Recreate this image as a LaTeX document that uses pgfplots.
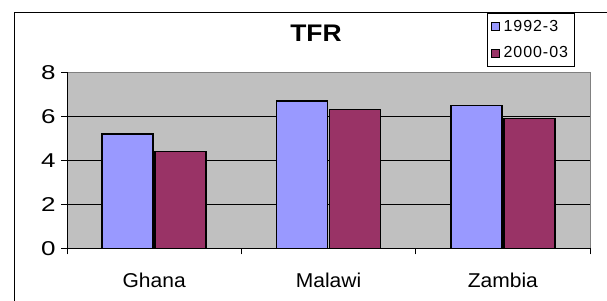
\documentclass[border=0pt]{standalone}
\usepackage{pgfplots}
\pgfplotsset{compat=1.18}
\usepackage{fontspec}
\setmainfont{Liberation Sans}
\definecolor{barblue}{HTML}{9999FF}
\definecolor{barred}{HTML}{993366}
\definecolor{plotbg}{HTML}{C0C0C0}
\definecolor{plotedge}{HTML}{808080}
\begin{document}
\begin{tikzpicture}
\useasboundingbox (0pt,0pt) rectangle (607pt,300pt);
\clip (0pt,0pt) rectangle (607pt,300pt);
\draw[line width=1.3pt] (14.7pt,-20pt) -- (14.7pt,287.3pt) -- (640pt,287.3pt);
\begin{axis}[
  at={(67pt,51.7pt)}, anchor=south west,
  scale only axis, width=523pt, height=176pt,
  ybar, bar width=51pt,
  xmin=0.5, xmax=3.5, ymin=0, ymax=8,
  axis lines=left, axis line style={-, line width=0.9pt},
  axis background/.style={fill=plotbg, draw=plotedge, line width=1pt},
  xtick={1,2,3}, xticklabels={Ghana,Malawi,Zambia},
  major x tick style={draw=none},
  minor xtick={0.5,1.5,2.5,3.5},
  minor x tick style={black, line width=0.8pt},
  minor tick length=6pt,
  ytick={0,2,4,6,8},
  y tick style={black, line width=0.8pt},
  major tick length=6pt,
  tick align=outside,
  extra y ticks={2,4,6}, extra y tick labels={},
  extra y tick style={grid=major, major tick length=0pt},
  grid style={black, line width=0.8pt},
  /pgf/number format/assume math mode=true,
  xticklabel style={font=\fontsize{20}{24}\selectfont\addfontfeatures{FakeStretch=1.05}, yshift=-15pt},
  yticklabel style={font=\fontsize{20}{24}\selectfont\addfontfeatures{FakeStretch=1.3}, xshift=-2pt},
  title={TFR},
  title style={font=\fontsize{24}{28}\selectfont\bfseries\addfontfeatures{FakeStretch=1.1}, at={(axis description cs:0.476,1.19)}, anchor=center},
  legend style={at={(axis description cs:0.8025,1.3386)}, anchor=north west,
    draw=black, line width=0.8pt, font=\fontsize{16}{19}\selectfont\addfontfeatures{LetterSpace=6},
    inner xsep=4pt, inner ysep=5pt, row sep=10pt,
    nodes={inner sep=2pt}},
  legend cell align=left,
  legend image code/.code={\draw[#1, line width=0.8pt] (0pt,-4pt) rectangle (8pt,4pt); \path (9.3pt,0pt);},
]
\addplot[fill=barblue, draw=black, line width=1.5pt] coordinates {(1,5.2) (2,6.7) (3,6.5)};
\addplot[fill=barred, draw=black, line width=1.5pt] coordinates {(1,4.4) (2,6.3) (3,5.9)};
\legend{1992-3, 2000-03}
\end{axis}
\end{tikzpicture}
\end{document}
